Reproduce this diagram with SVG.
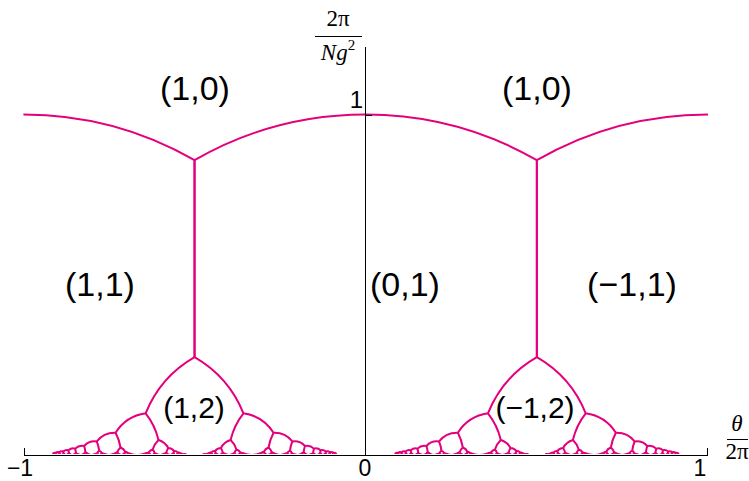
<svg xmlns="http://www.w3.org/2000/svg" xmlns:xlink="http://www.w3.org/1999/xlink" width="749" height="481" viewBox="0 0 749 481">
<style>
.b{fill:none;stroke:#e4007c;stroke-width:2;vector-effect:non-scaling-stroke;stroke-linejoin:round}
.e{fill:none;stroke:#e4007c;stroke-width:3.2;vector-effect:non-scaling-stroke;stroke-linejoin:round}
.ax{fill:none;stroke:#000;stroke-width:1}
.lab{font-family:"Liberation Sans",Arial,sans-serif;font-size:34px;fill:#000;text-anchor:middle}
.lab2{font-family:"Liberation Sans",Arial,sans-serif;font-size:30px;fill:#000;text-anchor:middle}
.tk{font-family:"Liberation Sans",Arial,sans-serif;font-size:23px;fill:#000;text-anchor:middle}
.ser{font-family:"Liberation Serif","Times New Roman",serif;font-size:23px;fill:#000;text-anchor:middle}
</style>
<defs>
<clipPath id="cl"><rect x="0" y="0" width="749" height="454"/></clipPath>
</defs>
<rect width="749" height="481" fill="#fff"/>
<g clip-path="url(#cl)">
<g id="boundaries" transform="matrix(342.3 0 0 -341 365.7 455.5)">
<g id="q">
<path class="b" d="M0,1 A1,1 0 0 0 0.5,0.866025 V0.288675 A0.333333,0.333333 0 0 1 0.357143,0.123718 A0.125,0.125 0 0 1 0.269231,0.066617 A0.066667,0.066667 0 0 1 0.214286,0.041239 A0.041667,0.041667 0 0 1 0.177419,0.027936 A0.028571,0.028571 0 0 1 0.151163,0.020140 A0.020833,0.020833 0 0 1 0.131579,0.015193 A0.015873,0.015873 0 0 1 0.116438,0.011863 A0.0125,0.0125 0 0 1 0.104396,0.009517 A0.010101,0.010101 0 0 1 0.094595,0.007802 A0.008333,0.008333 0 0 1 0.086466,0.006511"/>
<path class="b" d="M0.357143,0.123718 A0.2,0.2 0 0 0 0.394737,0.045580 M0.269231,0.066617 A0.142857,0.142857 0 0 0 0.283784,0.023406 M0.214286,0.041239 A0.111111,0.111111 0 0 0 0.221311,0.014197 M0.177419,0.027936 A0.090909,0.090909 0 0 0 0.181319,0.009517 M0.151163,0.020140 A0.076923,0.076923 0 0 0 0.153543,0.006819"/>
<path class="b" d="M0.394737,0.045580 A0.0625,0.0625 0 0 1 0.377551,0.017674 A0.018182,0.018182 0 0 1 0.365979,0.008928 M0.377551,0.017674 A0.025641,0.025641 0 0 0 0.383721,0.006713 M0.394737,0.045580 A0.047619,0.047619 0 0 0 0.423077,0.022206 A0.041667,0.041667 0 0 1 0.417431,0.007945 M0.423077,0.022206 A0.022222,0.022222 0 0 0 0.440299,0.012926 A0.012987,0.012987 0 0 0 0.451456,0.008408 A0.008547,0.008547 0 0 0 0.459184,0.005891"/>
<path class="b" d="M0.283784,0.023406 A0.030303,0.030303 0 0 1 0.274194,0.009312 M0.283784,0.023406 A0.025,0.025 0 0 0 0.297468,0.010962 A0.010989,0.010989 0 0 0 0.305755,0.006230 M0.221311,0.014197 A0.015385,0.015385 0 0 0 0.229323,0.006511 M0.221311,0.014197 A0.017857,0.017857 0 0 1 0.215232,0.005735"/>
<path class="b" d="M0.131579,0.015193 A0.066667,0.066667 0 0 0 0.133136,0.005124 M0.116438,0.011863 A0.058824,0.058824 0 0 0 0.117512,0.003991 M0.104396,0.009517 A0.052632,0.052632 0 0 0 0.105166,0.003196 M0.094595,0.007802 A0.047619,0.047619 0 0 0 0.095166,0.002616 M0.086466,0.006511 A0.043478,0.043478 0 0 0 0.086902,0.002181 M0.365979,0.008928 A0.008929,0.008929 0 0 1 0.358896,0.005313 M0.365979,0.008928 A0.017544,0.017544 0 0 0 0.368132,0.003172 M0.383721,0.006713 A0.009524,0.009524 0 0 1 0.381306,0.002570 M0.383721,0.006713 A0.006944,0.006944 0 0 0 0.388031,0.003344 M0.417431,0.007945 A0.008403,0.008403 0 0 1 0.412664,0.003782 M0.417431,0.007945 A0.010526,0.010526 0 0 0 0.420578,0.003126 M0.440299,0.012926 A0.03125,0.03125 0 0 1 0.437824,0.004487 M0.451456,0.008408 A0.025,0.025 0 0 1 0.450166,0.002877 M0.459184,0.005891 A0.020833,0.020833 0 0 1 0.458430,0.002000 M0.459184,0.005891 A0.006061,0.006061 0 0 0 0.464824,0.004352 A0.004525,0.004525 0 0 0 0.469112,0.003344 A0.003509,0.003509 0 0 0 0.472477,0.002648 M0.274194,0.009312 A0.009524,0.009524 0 0 1 0.267956,0.004785 M0.274194,0.009312 A0.013889,0.013889 0 0 0 0.277328,0.003506 M0.297468,0.010962 A0.019608,0.019608 0 0 1 0.294521,0.003954 M0.305755,0.006230 A0.014493,0.014493 0 0 1 0.304511,0.002171 M0.305755,0.006230 A0.00625,0.00625 0 0 0 0.311060,0.003991 M0.215232,0.005735 A0.005848,0.005848 0 0 1 0.211340,0.002976 M0.215232,0.005735 A0.008696,0.008696 0 0 0 0.217122,0.002149 M0.229323,0.006511 A0.011364,0.011364 0 0 1 0.227520,0.002360 M0.229323,0.006511 A0.006536,0.006536 0 0 0 0.234177,0.003654 M0.181319,0.009517 A0.011765,0.011765 0 0 1 0.177130,0.003884 M0.181319,0.009517 A0.010417,0.010417 0 0 0 0.186567,0.004309 M0.153543,0.006819 A0.008333,0.008333 0 0 1 0.150485,0.002803 M0.153543,0.006819 A0.007519,0.007519 0 0 0 0.157244,0.003060"/>
<path class="e" d="M0.125,0 Q0.129068,0 0.133136,0.005124 Q0.137997,0 0.142857,0 M0.111111,0 Q0.114312,0 0.117512,0.003991 Q0.121256,0 0.125,0 M0.1,0 Q0.102583,0 0.105166,0.003196 Q0.108139,0 0.111111,0 M0.090909,0 Q0.093038,0 0.095166,0.002616 Q0.097583,0 0.1,0 M0.083333,0 Q0.085118,0 0.086902,0.002181 Q0.088906,0 0.090909,0 M0.333333,0 Q0.346115,0 0.358896,0.005313 Q0.361266,0 0.363636,0 M0.363636,0 Q0.365884,0 0.368132,0.003172 Q0.371566,0 0.375,0 M0.375,0 Q0.378153,0 0.381306,0.002570 Q0.382961,0 0.384615,0 M0.384615,0 Q0.386323,0 0.388031,0.003344 Q0.394016,0 0.4,0 M0.4,0 Q0.406332,0 0.412664,0.003782 Q0.414666,0 0.416667,0 M0.416667,0 Q0.418623,0 0.420578,0.003126 Q0.424575,0 0.428571,0 M0.428571,0 Q0.433198,0 0.437824,0.004487 Q0.441134,0 0.444444,0 M0.444444,0 Q0.447305,0 0.450166,0.002877 Q0.452356,0 0.454545,0 M0.454545,0 Q0.456488,0 0.458430,0.002000 Q0.459984,0 0.461538,0 M0.461538,0 Q0.463181,0 0.464824,0.004352 M0.466667,0 Q0.467890,0 0.469112,0.003344 M0.470588,0 Q0.471533,0 0.472477,0.002648 Q0.473739,0 0.475,0 M0.25,0 Q0.258978,0 0.267956,0.004785 Q0.270342,0 0.272727,0 M0.272727,0 Q0.275028,0 0.277328,0.003506 Q0.281521,0 0.285714,0 M0.285714,0 Q0.290118,0 0.294521,0.003954 Q0.297261,0 0.3,0 M0.3,0 Q0.302256,0 0.304511,0.002171 Q0.306102,0 0.307692,0 M0.307692,0 Q0.309376,0 0.311060,0.003991 Q0.322197,0 0.333333,0 M0.2,0 Q0.20567,0 0.211340,0.002976 Q0.212813,0 0.214286,0 M0.214286,0 Q0.215704,0 0.217122,0.002149 Q0.219672,0 0.222222,0 M0.222222,0 Q0.224871,0 0.227520,0.002360 Q0.229145,0 0.230769,0 M0.230769,0 Q0.232473,0 0.234177,0.003654 Q0.242089,0 0.25,0 M0.166667,0 Q0.171899,0 0.177130,0.003884 Q0.179474,0 0.181818,0 M0.181818,0 Q0.184193,0 0.186567,0.004309 Q0.193284,0 0.2,0 M0.142857,0 Q0.146671,0 0.150485,0.002803 Q0.152166,0 0.153846,0 M0.153846,0 Q0.155545,0 0.157244,0.003060 Q0.161956,0 0.166667,0"/>
</g>
<use xlink:href="#q" transform="matrix(-1 0 0 1 0 0)"/>
<use xlink:href="#q" transform="matrix(-1 0 0 1 1 0)"/>
<use xlink:href="#q" transform="translate(-1 0)"/>
</g>
</g>
<g id="axes">
<line class="ax" x1="24" y1="455.5" x2="708" y2="455.5"/>
<line class="ax" x1="365.5" y1="47" x2="365.5" y2="455.5"/>
<line class="ax" x1="24.5" y1="448" x2="24.5" y2="455.5"/>
<line class="ax" x1="707.5" y1="448" x2="707.5" y2="455.5"/>
<line class="ax" x1="365.5" y1="115.5" x2="372" y2="115.5"/>
</g>
<g id="labels">
<text class="lab" x="195" y="100">(1,0)</text>
<text class="lab" x="537" y="100">(1,0)</text>
<text class="lab" x="100" y="296">(1,1)</text>
<text class="lab" x="405" y="296">(0,1)</text>
<text class="lab" x="632" y="296">(−1,1)</text>
<text class="lab2" x="194" y="418">(1,2)</text>
<text class="lab2" x="535" y="418">(−1,2)</text>
</g>
<g id="ticks">
<text class="tk" x="363" y="108" style="text-anchor:end;font-size:24px">1</text>
<text class="tk" x="20" y="476">−1</text>
<text class="tk" x="365" y="476">0</text>
<text class="tk" x="700" y="476">1</text>
</g>
<g id="axislabels">
<text class="ser" x="338" y="26">2π</text>
<line x1="315" y1="36.5" x2="362" y2="36.5" stroke="#000" stroke-width="1"/>
<text class="ser" x="338" y="60" font-size="24"><tspan font-style="italic">Ng</tspan><tspan font-size="15" dy="-10">2</tspan></text>
<text class="ser" x="737" y="431" font-style="italic">θ</text>
<line x1="727" y1="439.5" x2="748" y2="439.5" stroke="#000" stroke-width="1"/>
<text class="ser" x="737" y="459">2π</text>
</g>
</svg>
